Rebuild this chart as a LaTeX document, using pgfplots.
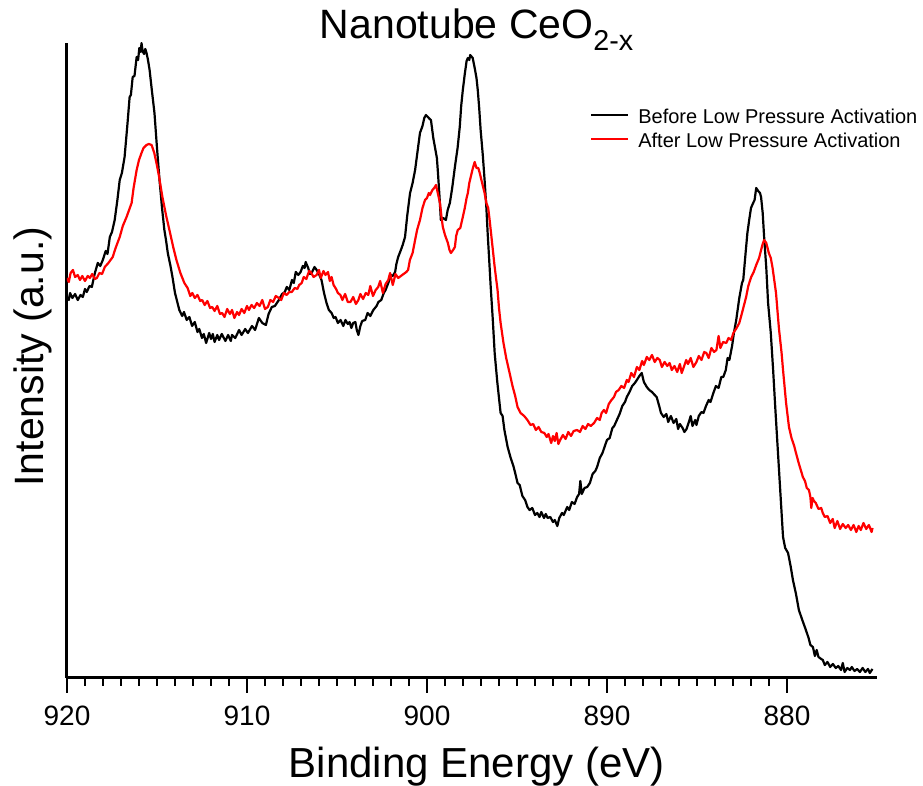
\documentclass[border=0pt]{standalone}
\usepackage{pgfplots}
\pgfplotsset{compat=1.18}
\usepackage{fontspec}
\setmainfont{Liberation Sans}
\begin{document}
\begin{tikzpicture}
\path[use as bounding box] (0,0) rectangle (923pt,786pt);
\begin{axis}[
  at={(67pt,108pt)}, anchor=south west,
  scale only axis, width=810pt, height=635pt,
  x dir=reverse, xmin=875, xmax=920, ymin=0, ymax=635,
  axis x line*=bottom, axis y line*=left,
  x axis line style={line width=3pt},
  y axis line style={line width=3pt},
  xtick={880,890,900,910,920}, minor x tick num=9,
  ytick=\empty,
  tick align=outside, major tick length=15pt, minor tick length=8pt,
  every tick/.style={black, line width=2.4pt},
  /pgf/number format/assume math mode=true,
  tick label style={font=\fontsize{28}{34}\selectfont},
  xticklabel style={yshift=-9pt},
  xlabel={Binding Energy (eV)}, ylabel={Intensity (a.u.)},
  xlabel style={font=\fontsize{42}{50}\selectfont, at={(axis description cs:0.506,0)}, anchor=base, yshift=-100pt},
  ylabel style={font=\fontsize{41}{50}\selectfont, at={(axis description cs:-0.0296,0.506)}, anchor=base, rotate=0},
  title={Nanotube CeO\textsubscript{2-x}},
  title style={font=\fontsize{41}{48}\selectfont, at={(axis description cs:0.506,1)}, anchor=base, yshift=-2pt},
  legend style={at={(axis description cs:0.6457,0.898)}, anchor=north west, draw=none, fill=none,
    font=\fontsize{20}{24}\selectfont, inner sep=0pt, row sep=0pt,
    nodes={inner sep=0pt, text height=16pt, text depth=8pt}},
  legend cell align=left,
  legend image code/.code={\draw[#1, line width=2pt] (0pt,5pt) -- (37pt,5pt); \path (46pt,5pt);},
]
\addplot[black, line width=2.2pt, line join=round] coordinates {
(920.00,381)(919.90,378)(919.83,385)(919.70,380)(919.55,384)(919.40,378)(919.25,383)(919.12,381)(919.00,389)(918.90,386)(918.75,392)(918.62,391)(918.45,405)(918.29,415)(918.15,412)(918.01,418)(917.85,427)(917.75,424)(917.62,441)(917.50,446)(917.35,458)(917.20,478)(917.07,498)(916.95,505)(916.80,521)(916.65,552)(916.52,581)(916.45,583)(916.35,601)(916.25,602)(916.13,621)(916.05,618)(915.98,630)(915.90,626)(915.86,635)(915.80,627)(915.72,624)(915.65,629)(915.58,625)(915.50,618)(915.41,608)(915.30,590)(915.14,565)(915.00,530)(914.86,498)(914.72,470)(914.59,448)(914.50,438)(914.40,425)(914.25,412)(914.14,401)(914.00,385)(913.90,378)(913.76,368)(913.60,362)(913.50,366)(913.35,358)(913.20,361)(913.05,352)(912.90,356)(912.75,346)(912.65,349)(912.50,340)(912.40,344)(912.27,335)(912.10,345)(912.00,339)(911.90,344)(911.80,336)(911.65,343)(911.55,338)(911.40,344)(911.20,337)(911.05,343)(910.90,337)(910.83,343)(910.65,340)(910.44,348)(910.30,343)(910.10,349)(909.95,345)(909.72,352)(909.55,348)(909.34,360)(909.15,355)(908.95,353)(908.80,364)(908.62,371)(908.45,372)(908.23,378)(908.05,384)(907.90,386)(907.79,391)(907.65,388)(907.50,398)(907.40,395)(907.29,406)(907.15,403)(907.02,406)(906.90,412)(906.80,410)(906.74,416)(906.60,410)(906.50,404)(906.41,405)(906.25,411)(906.13,408)(906.00,404)(905.86,398)(905.72,385)(905.58,375)(905.45,368)(905.30,365)(905.18,360)(905.08,361)(904.95,355)(904.80,358)(904.65,352)(904.53,358)(904.40,354)(904.30,356)(904.20,350)(904.10,355)(903.98,356)(903.90,348)(903.81,343)(903.70,352)(903.60,357)(903.43,358)(903.30,365)(903.15,362)(902.98,368)(902.80,372)(902.70,376)(902.54,378)(902.40,385)(902.30,388)(902.15,395)(902.00,403)(901.90,402)(901.77,406)(901.70,414)(901.60,421)(901.45,428)(901.35,433)(901.22,441)(901.10,462)(900.94,485)(900.80,495)(900.66,508)(900.50,530)(900.39,545)(900.25,552)(900.15,560)(900.06,563)(899.95,561)(899.85,559)(899.78,558)(899.65,540)(899.56,531)(899.45,520)(899.39,505)(899.30,480)(899.23,458)(899.10,460)(898.95,458)(898.85,468)(898.73,475)(898.60,490)(898.45,511)(898.30,530)(898.18,551)(898.10,572)(898.01,588)(897.90,604)(897.80,617)(897.73,620)(897.65,618)(897.60,623)(897.46,620)(897.35,610)(897.25,600)(897.18,588)(897.10,570)(897.02,548)(896.90,523)(896.80,498)(896.70,470)(896.63,445)(896.55,420)(896.46,391)(896.35,360)(896.24,325)(896.10,297)(896.00,280)(895.91,265)(895.80,262)(895.70,248)(895.52,231)(895.35,220)(895.20,212)(895.10,205)(894.97,195)(894.85,193)(894.70,182)(894.55,178)(894.42,171)(894.30,168)(894.15,170)(894.00,163)(893.87,165)(893.75,161)(893.65,166)(893.50,160)(893.40,164)(893.30,160)(893.15,161)(893.00,156)(892.90,158)(892.76,152)(892.65,160)(892.50,165)(892.40,163)(892.21,171)(892.10,168)(891.95,176)(891.80,174)(891.66,181)(891.55,184)(891.48,197)(891.40,184)(891.25,190)(891.10,191)(890.95,195)(890.80,204)(890.65,207)(890.55,211)(890.40,220)(890.25,225)(890.10,233)(890.00,238)(889.85,240)(889.70,250)(889.60,252)(889.45,258)(889.30,264)(889.15,272)(889.00,276)(888.90,281)(888.75,286)(888.60,292)(888.45,295)(888.34,298)(888.20,302)(888.07,305)(887.95,296)(887.79,291)(887.65,288)(887.50,286)(887.35,283)(887.24,281)(887.10,272)(887.00,265)(886.85,261)(886.70,264)(886.60,256)(886.45,262)(886.30,255)(886.15,259)(886.05,249)(885.95,254)(885.80,250)(885.70,246)(885.58,249)(885.45,256)(885.35,262)(885.25,252)(885.10,258)(885.03,253)(884.90,262)(884.75,266)(884.64,265)(884.50,272)(884.35,278)(884.25,276)(884.09,285)(883.95,292)(883.80,290)(883.65,301)(883.54,301)(883.40,308)(883.30,320)(883.20,318)(883.05,332)(882.95,345)(882.82,358)(882.65,380)(882.50,395)(882.43,398)(882.30,425)(882.20,445)(882.10,458)(882.00,470)(881.88,475)(881.80,478)(881.71,490)(881.60,487)(881.50,485)(881.44,481)(881.35,465)(881.27,441)(881.15,410)(881.05,375)(880.90,345)(880.77,308)(880.65,270)(880.50,225)(880.35,180)(880.22,141)(880.10,130)(879.94,125)(879.80,112)(879.67,98)(879.50,84)(879.34,68)(879.15,58)(878.95,48)(878.80,40)(878.70,33)(878.56,31)(878.45,22)(878.35,28)(878.25,21)(878.10,19)(878.01,18)(877.90,13)(877.75,16)(877.60,11)(877.45,14)(877.29,10)(877.15,12)(877.00,8)(876.90,15)(876.80,6)(876.65,10)(876.50,8)(876.40,11)(876.25,7)(876.10,9)(875.95,6)(875.80,10)(875.65,6)(875.50,9)(875.40,5)(875.25,9)
};
\addlegendentry{Before Low Pressure Activation}
\addplot[red, line width=2.2pt, line join=round] coordinates {
(920.00,400)(919.90,396)(919.80,405)(919.67,408)(919.55,401)(919.40,403)(919.28,398)(919.15,402)(919.00,397)(918.85,402)(918.73,400)(918.60,404)(918.45,399)(918.34,400)(918.20,405)(918.05,404)(917.90,411)(917.70,415)(917.46,421)(917.30,430)(917.07,441)(916.90,452)(916.69,461)(916.55,468)(916.41,475)(916.30,490)(916.13,508)(916.00,518)(915.86,525)(915.75,530)(915.58,533)(915.45,534)(915.30,533)(915.15,525)(915.03,515)(914.90,503)(914.70,481)(914.50,463)(914.31,448)(914.10,431)(913.92,418)(913.70,405)(913.48,395)(913.30,390)(913.15,382)(913.04,385)(912.90,380)(912.75,383)(912.60,377)(912.49,378)(912.35,373)(912.20,377)(912.05,370)(911.93,371)(911.80,367)(911.65,372)(911.50,364)(911.38,365)(911.25,361)(911.10,369)(910.95,364)(910.83,368)(910.70,360)(910.55,366)(910.44,363)(910.30,369)(910.15,365)(910.00,372)(909.89,368)(909.75,373)(909.60,370)(909.45,375)(909.30,372)(909.15,378)(909.00,369)(908.84,371)(908.70,378)(908.55,376)(908.40,382)(908.23,380)(908.10,378)(907.95,385)(907.80,383)(907.65,386)(907.51,386)(907.35,390)(907.20,389)(907.10,393)(906.96,395)(906.85,401)(906.70,399)(906.55,407)(906.46,406)(906.30,401)(906.13,403)(906.00,408)(905.90,400)(905.75,407)(905.64,403)(905.50,406)(905.40,397)(905.30,401)(905.19,393)(905.05,389)(904.95,385)(904.81,383)(904.70,378)(904.55,384)(904.40,376)(904.25,376)(904.10,381)(903.95,374)(903.81,378)(903.70,384)(903.55,379)(903.40,385)(903.26,383)(903.15,392)(903.00,382)(902.85,388)(902.71,391)(902.60,397)(902.45,385)(902.30,394)(902.15,398)(902.05,405)(901.90,393)(901.75,404)(901.60,400)(901.45,402)(901.30,404)(901.15,406)(901.05,408)(900.95,418)(900.80,425)(900.66,438)(900.55,448)(900.39,458)(900.25,470)(900.11,478)(900.00,480)(899.90,485)(899.83,483)(899.70,488)(899.60,490)(899.50,493)(899.40,485)(899.28,475)(899.20,462)(899.12,451)(899.00,443)(898.84,435)(898.75,428)(898.67,425)(898.55,428)(898.45,431)(898.38,442)(898.29,448)(898.15,450)(898.01,461)(897.90,470)(897.80,480)(897.73,485)(897.65,495)(897.57,501)(897.45,510)(897.35,516)(897.25,510)(897.15,510)(897.07,505)(896.95,496)(896.80,485)(896.70,475)(896.60,470)(896.52,458)(896.40,438)(896.24,411)(896.15,398)(896.08,388)(896.00,370)(895.91,355)(895.75,335)(895.60,320)(895.41,305)(895.25,292)(895.10,282)(894.97,271)(894.80,265)(894.60,262)(894.42,258)(894.25,253)(894.10,254)(893.95,248)(893.80,251)(893.65,246)(893.48,245)(893.35,241)(893.25,244)(893.10,235)(893.00,242)(892.90,237)(892.80,245)(892.70,234)(892.60,238)(892.45,243)(892.30,239)(892.15,246)(892.00,242)(891.85,247)(891.66,248)(891.50,246)(891.35,252)(891.20,249)(891.05,254)(890.90,252)(890.72,255)(890.55,260)(890.40,258)(890.30,265)(890.17,268)(890.05,265)(889.90,274)(889.75,278)(889.61,281)(889.50,286)(889.35,288)(889.20,292)(889.05,290)(888.90,298)(888.80,296)(888.65,305)(888.50,301)(888.34,311)(888.20,308)(888.05,317)(887.95,313)(887.79,321)(887.65,318)(887.50,323)(887.35,316)(887.20,320)(887.07,318)(886.95,311)(886.80,316)(886.65,312)(886.52,315)(886.40,308)(886.25,312)(886.10,306)(885.95,314)(885.85,305)(885.75,310)(885.60,318)(885.50,314)(885.35,320)(885.20,311)(885.03,316)(884.90,322)(884.75,318)(884.60,326)(884.48,325)(884.35,320)(884.20,330)(884.05,326)(883.92,328)(883.80,342)(883.70,330)(883.55,336)(883.37,335)(883.25,340)(883.10,338)(882.98,345)(882.80,350)(882.65,355)(882.50,365)(882.40,372)(882.27,381)(882.15,392)(881.99,401)(881.85,406)(881.71,413)(881.55,420)(881.44,428)(881.35,434)(881.27,438)(881.15,435)(881.01,425)(880.90,420)(880.80,410)(880.61,385)(880.45,350)(880.30,325)(880.22,308)(880.05,275)(879.89,251)(879.75,240)(879.60,232)(879.50,225)(879.35,215)(879.20,206)(879.12,201)(879.00,197)(878.90,190)(878.78,188)(878.70,181)(878.65,170)(878.58,180)(878.50,177)(878.40,175)(878.25,169)(878.10,170)(878.01,165)(877.90,161)(877.75,162)(877.60,155)(877.46,159)(877.35,150)(877.20,157)(877.05,149)(876.90,154)(876.74,150)(876.60,153)(876.45,148)(876.30,153)(876.15,146)(876.02,152)(875.90,148)(875.75,155)(875.60,149)(875.45,153)(875.30,146)(875.25,150)
};
\addlegendentry{After Low Pressure Activation}
\end{axis}
\end{tikzpicture}
\end{document}
